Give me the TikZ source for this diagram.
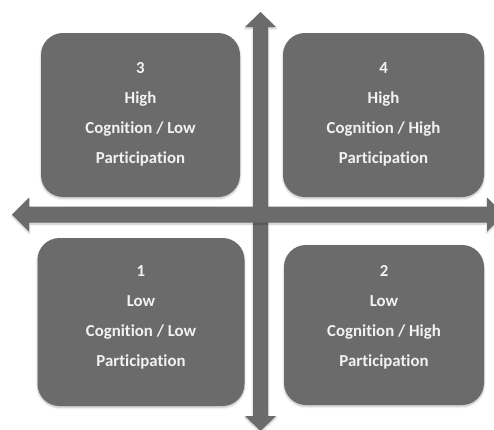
\documentclass[tikz,border=0pt]{standalone}
\usepackage{fontspec}
\setmainfont[RawFeature=-liga]{Carlito}
\usetikzlibrary{shadows.blur}
\definecolor{boxgray}{HTML}{6B6B6B}
\definecolor{txtwhite}{HTML}{F2F2F2}
\tikzset{
  quad/.style={draw=none, fill=boxgray, rounded corners=22pt, inner sep=0pt,
    blur shadow={shadow xshift=0pt, shadow yshift=-1.5pt, shadow blur steps=6, shadow opacity=25}},
  quadtext/.style={align=center, text=txtwhite, inner sep=0pt,
    font=\bfseries\fontsize{16.8}{30}\selectfont},
  axis/.style={fill=boxgray, draw=none,
    blur shadow={shadow xshift=0pt, shadow yshift=-1.5pt, shadow blur steps=6, shadow opacity=25}}
}
\begin{document}
\begin{tikzpicture}[x=1pt,y=-1pt]
\useasboundingbox (0,0) rectangle (494,429);
% axes
\coordinate (vtop) at (260.5,12);
\coordinate (vbot) at (260.5,431);
\coordinate (hleft) at (12,214.5);
\coordinate (hright) at (504,214.5);
\fill[axis] (vtop) -- ++(15.5,15) -- ++(-8,0) -- ++(0,389) -- ++(8,0) -- (vbot) -- ++(-15.5,-15) -- ++(8,0) -- ++(0,-389) -- ++(-8,0) -- cycle;
\fill[axis] (hleft) -- ++(17,-17) -- ++(0,9) -- ++(458,0) -- ++(0,-9) -- (hright) -- ++(-17,17) -- ++(0,-9) -- ++(-458,0) -- ++(0,9) -- cycle;
% quadrants
\node[quad, minimum width=199pt, minimum height=164pt] (q3) at (140.5,115) {};
\node[quad, minimum width=201pt, minimum height=164pt] (q4) at (383.5,115) {};
\node[quad, minimum width=207pt, minimum height=168pt] (q1) at (141,322) {};
\node[quad, minimum width=200pt, minimum height=160pt] (q2) at (384,325) {};
\node[quadtext] (t3) at ([yshift=1pt]q3.center) {3\\High\\Cognition / Low\\Participation};
\node[quadtext] (t4) at ([yshift=1pt]q4.center) {4\\High\\Cognition / High\\Participation};
\node[quadtext] (t1) at ([yshift=5pt]q1.center) {1\\Low\\Cognition / Low\\Participation};
\node[quadtext] (t2) at ([yshift=8pt]q2.center) {2\\Low\\Cognition / High\\Participation};
\end{tikzpicture}
\end{document}
